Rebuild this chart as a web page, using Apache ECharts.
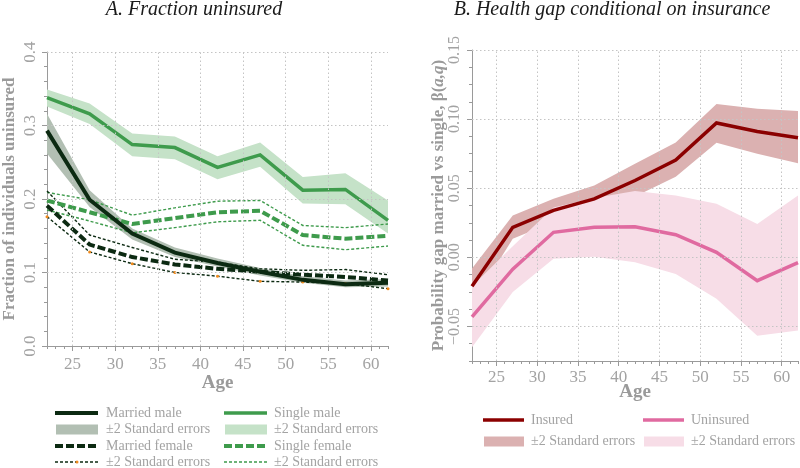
<!DOCTYPE html>
<html>
<head>
<meta charset="utf-8">
<script src="https://cdn.jsdelivr.net/npm/echarts@6/dist/echarts.min.js"></script>
<style>html,body{margin:0;padding:0;background:#fff}#c{width:800px;height:468px}</style>
</head>
<body>
<div id="c"></div>
<script>
// ---------- data ----------
var ages = [22, 27, 32, 37, 42, 47, 52, 57, 62];

// Panel A: fraction uninsured
var marriedMale     = [0.293, 0.199, 0.153, 0.127, 0.113, 0.101, 0.090, 0.084, 0.086];
var marriedMaleLo   = [0.262, 0.189, 0.145, 0.121, 0.108, 0.096, 0.086, 0.080, 0.081];
var marriedMaleHi   = [0.316, 0.212, 0.160, 0.134, 0.119, 0.106, 0.095, 0.089, 0.091];
var singleMale      = [0.338, 0.316, 0.274, 0.270, 0.243, 0.260, 0.212, 0.213, 0.171];
var singleMaleLo    = [0.326, 0.302, 0.258, 0.254, 0.227, 0.244, 0.194, 0.193, 0.153];
var singleMaleHi    = [0.349, 0.330, 0.289, 0.285, 0.258, 0.277, 0.230, 0.235, 0.198];
var marriedFemale   = [0.191, 0.138, 0.121, 0.111, 0.105, 0.101, 0.097, 0.094, 0.089];
var marriedFemaleLo = [0.176, 0.128, 0.112, 0.100, 0.095, 0.088, 0.087, 0.085, 0.078];
var marriedFemaleHi = [0.211, 0.151, 0.134, 0.118, 0.114, 0.105, 0.103, 0.104, 0.097];
var singleFemale    = [0.198, 0.182, 0.166, 0.174, 0.182, 0.184, 0.151, 0.146, 0.150];
var singleFemaleLo  = [0.185, 0.170, 0.154, 0.161, 0.169, 0.171, 0.137, 0.131, 0.136];
var singleFemaleHi  = [0.209, 0.199, 0.178, 0.188, 0.197, 0.198, 0.164, 0.161, 0.166];

// Panel B: health gap conditional on insurance
var insured       = [-0.021, 0.0217, 0.034, 0.0423, 0.0556, 0.0703, 0.0972, 0.091, 0.0865];
var insuredLo     = [-0.034, 0.0135, 0.0255, 0.0330, 0.0440, 0.0583, 0.0829, 0.0750, 0.0680];
var insuredHi     = [-0.008, 0.0302, 0.0423, 0.0520, 0.0677, 0.0830, 0.1110, 0.1075, 0.1058];
var uninsured     = [-0.043, -0.0086, 0.0181, 0.0217, 0.0221, 0.0164, 0.0036, -0.0169, -0.0038];
var uninsuredLo   = [-0.065, -0.025, -0.001, 0.0005, -0.0036, -0.012, -0.030, -0.0567, -0.053];
var uninsuredHi   = [-0.021, 0.008, 0.036, 0.043, 0.048, 0.0447, 0.0387, 0.0242, 0.0447];

// ticks
var xMajor  = [25, 30, 35, 40, 45, 50, 55, 60];
var xMinor  = [22, 23, 24, 26, 27, 28, 29, 31, 32, 33, 34, 36, 37, 38, 39, 41, 42, 43, 44,
               46, 47, 48, 49, 51, 52, 53, 54, 56, 57, 58, 59, 61, 62];
var yMajorA = [0, 0.1, 0.2, 0.3, 0.4];
var yMajorB = [-0.05, 0, 0.05, 0.10, 0.15];
var yMinorB = [-0.075, -0.0625, -0.0375, -0.025, -0.0125, 0.0125, 0.025, 0.0375, 0.0625,
               0.075, 0.0875, 0.1125, 0.125, 0.1375];

// ---------- helpers ----------
var FONT = 'Liberation Serif';
var GRAY = '#a3a3a3';
var AXC = '#9a9a9a';

function pairs(ys) { return ages.map(function (a, i) { return [a, ys[i]]; }); }

function band(name, lo, hi, color, xi, yi, z) {
  return {
    name: name, type: 'custom', xAxisIndex: xi, yAxisIndex: yi, z: z, silent: true,
    data: ages.map(function (a, i) { return [a, lo[i], hi[i]]; }),
    encode: { x: 0, y: [1, 2] },
    renderItem: function (params, api) {
      if (params.dataIndex !== 0) return null;
      var pts = [], i;
      for (i = 0; i < ages.length; i++) pts.push(api.coord([ages[i], hi[i]]));
      for (i = ages.length - 1; i >= 0; i--) pts.push(api.coord([ages[i], lo[i]]));
      return { type: 'polygon', shape: { points: pts }, style: { fill: color, stroke: null } };
    },
    animation: false
  };
}

function line(name, ys, color, width, type, xi, yi, z, extra) {
  var s = {
    name: name, type: 'line', xAxisIndex: xi, yAxisIndex: yi, z: z,
    data: pairs(ys), symbol: 'none', silent: true,
    lineStyle: { color: color, width: width, type: type, cap: 'butt', join: 'miter' },
    animation: false
  };
  if (extra) for (var k in extra) s[k] = extra[k];
  return s;
}

function gridLines(xi, yi, yVals) {
  var d = xMajor.map(function (v) { return { xAxis: v }; })
    .concat(yVals.map(function (v) { return { yAxis: v }; }));
  return {
    type: 'line', xAxisIndex: xi, yAxisIndex: yi, z: 1, data: [], symbol: 'none', silent: true,
    markLine: {
      silent: true, symbol: ['none', 'none'], label: { show: false }, animation: false,
      lineStyle: { color: '#c4c4c4', width: 1, type: [1.5, 2.5] },
      emphasis: { disabled: true },
      data: d
    }
  };
}

function xAxes(gi, nameGap, margin) {
  return [{
    gridIndex: gi, type: 'value', min: 22, max: 62,
    name: 'Age', nameLocation: 'middle', nameGap: nameGap, nameMoveOverlap: false,
    nameTextStyle: { fontFamily: FONT, fontSize: 19, fontWeight: 'bold', color: AXC },
    axisLine: { onZero: false, lineStyle: { color: AXC, width: 1 } },
    axisTick: { customValues: xMajor, length: 5, lineStyle: { color: AXC } },
    axisLabel: { customValues: xMajor, margin: margin, fontFamily: FONT, fontSize: 17, color: GRAY },
    splitLine: { show: false }
  }, {
    gridIndex: gi, type: 'value', min: 22, max: 62, position: 'bottom',
    axisLine: { show: false, onZero: false },
    axisTick: { customValues: xMinor, length: 3, lineStyle: { color: AXC } },
    axisLabel: { show: false }, splitLine: { show: false }
  }];
}

var opt = {
  backgroundColor: '#fff',
  animation: false,
  grid: [
    { left: 44, top: 52, width: 344, height: 294, containLabel: false },
    { left: 472, top: 50, width: 326, height: 311, containLabel: false }
  ],
  xAxis: xAxes(0, 28, 10).concat(xAxes(1, 22, 8)),
  yAxis: [{
    gridIndex: 0, type: 'value', min: 0, max: 0.4, interval: 0.1,
    name: 'Fraction of individuals uninsured', nameLocation: 'middle', nameGap: 29,
    nameMoveOverlap: false,
    nameTextStyle: { fontFamily: FONT, fontSize: 17, fontWeight: 'bold', color: AXC },
    axisLine: { show: true, lineStyle: { color: AXC } },
    axisTick: { show: true, length: 5, lineStyle: { color: AXC } },
    minorTick: { show: true, splitNumber: 5, length: 3, lineStyle: { color: AXC } },
    axisLabel: { rotate: 90, margin: 8, fontFamily: FONT, fontSize: 17, color: GRAY,
      formatter: function (v) { return v.toFixed(1); } },
    splitLine: { show: false }
  }, {
    gridIndex: 1, type: 'value', min: -0.075, max: 0.15,
    name: '{b|Probability gap married vs single,} {m|β(}{i|a,q}{m|)}',
    nameLocation: 'middle', nameGap: 25, nameMoveOverlap: false,
    nameTextStyle: { fontFamily: FONT, fontSize: 17, fontWeight: 'bold', color: AXC,
      rich: {
        b: { fontFamily: FONT, fontSize: 17, fontWeight: 'bold', color: AXC },
        m: { fontFamily: FONT, fontSize: 17, color: AXC },
        i: { fontFamily: FONT, fontSize: 17, fontStyle: 'italic', color: AXC }
      } },
    axisLine: { show: true, onZero: false, lineStyle: { color: AXC } },
    axisTick: { show: true, customValues: yMajorB, length: 5, lineStyle: { color: AXC } },
    axisLabel: { customValues: yMajorB, rotate: 90, margin: 9, fontFamily: FONT, fontSize: 16, color: GRAY,
      formatter: function (v) { return (v < 0 ? '\u2212' : '') + Math.abs(v).toFixed(2); } },
    splitLine: { show: false }
  }, {
    gridIndex: 1, type: 'value', min: -0.075, max: 0.15, position: 'left',
    axisLine: { show: false, onZero: false },
    axisTick: { show: true, customValues: yMinorB, length: 3, lineStyle: { color: AXC } },
    axisLabel: { show: false }, splitLine: { show: false }
  }],
  series: [
    gridLines(0, 0, [0.1, 0.2, 0.3, 0.4]),
    band('Single male SE', singleMaleLo, singleMaleHi, '#c5e2c8', 0, 0, 2),
    band('Married male SE', marriedMaleLo, marriedMaleHi, '#b2bfb3', 0, 0, 2),
    line('Single female hi', singleFemaleHi, '#3e9b4c', 1.4, [3, 2], 0, 0, 3),
    line('Single female lo', singleFemaleLo, '#3e9b4c', 1.4, [3, 2], 0, 0, 3),
    line('Married female hi', marriedFemaleHi, '#0c2a12', 1.4, [3, 2], 0, 0, 3),
    line('Married female lo', marriedFemaleLo, '#0c2a12', 1.4, [3, 2], 0, 0, 3,
      { symbol: 'circle', symbolSize: 3, showSymbol: true, itemStyle: { color: '#f08a1c', borderWidth: 0 } }),
    line('Single male', singleMale, '#3e9b4c', 3.5, 'solid', 0, 0, 4),
    line('Single female', singleFemale, '#3e9b4c', 4, [8, 3], 0, 0, 4),
    line('Married female', marriedFemale, '#0c2a12', 4, [8, 3], 0, 0, 4),
    line('Married male', marriedMale, '#0c2a12', 4, 'solid', 0, 0, 5),

    gridLines(2, 1, [-0.05, 0, 0.05, 0.1, 0.15]),
    band('Insured SE', insuredLo, insuredHi, '#dbb1b1', 2, 1, 2),
    band('Uninsured SE', uninsuredLo, uninsuredHi, '#f7dde7', 2, 1, 2),
    line('Uninsured', uninsured, '#e06aa0', 3.5, 'solid', 2, 1, 4),
    line('Insured', insured, '#8b0000', 3.5, 'solid', 2, 1, 5)
  ],
  graphic: []
};

// ---------- titles ----------
var G = opt.graphic;
function txt(x, y, s, font, color, align) {
  G.push({ type: 'text', x: x, y: y, silent: true,
    style: { text: s, font: font, fill: color, align: align || 'left', verticalAlign: 'middle' } });
}
txt(194, 10, 'A. Fraction uninsured', 'italic 20px "' + FONT + '"', '#1a1a1a', 'center');
txt(612, 10, 'B. Health gap conditional on insurance', 'italic 20px "' + FONT + '"', '#1a1a1a', 'center');

// ---------- legends ----------
function lgLine(x1, x2, y, color, w, dash) {
  G.push({ type: 'line', silent: true, shape: { x1: x1, y1: y, x2: x2, y2: y },
    style: { stroke: color, lineWidth: w, lineDash: dash || null } });
}
function lgRect(x1, x2, y, color) {
  G.push({ type: 'rect', silent: true, shape: { x: x1, y: y - 5, width: x2 - x1, height: 10 },
    style: { fill: color } });
}
var LF = '14px "' + FONT + '"';
var ly = [413, 429.5, 446, 462];
// col 1
lgLine(55, 98, ly[0], '#0c2a12', 4);           txt(106, ly[0], 'Married male', LF, GRAY);
lgRect(56, 98, ly[1], '#b2bfb3');              txt(106, ly[1], '\u00b12 Standard errors', LF, GRAY);
lgLine(55, 98, ly[2], '#0c2a12', 4, [8, 3]);   txt(106, ly[2], 'Married female', LF, GRAY);
lgLine(55, 98, ly[3], '#0c2a12', 1.4, [3, 2]); txt(106, ly[3], '\u00b12 Standard errors', LF, GRAY);
G.push({ type: 'circle', silent: true, shape: { cx: 77, cy: ly[3], r: 1.5 }, style: { fill: '#f08a1c' } });
// col 2
lgLine(224, 267, ly[0], '#3e9b4c', 3.5);       txt(274, ly[0], 'Single male', LF, GRAY);
lgRect(225, 267, ly[1], '#c5e2c8');            txt(274, ly[1], '\u00b12 Standard errors', LF, GRAY);
lgLine(224, 267, ly[2], '#3e9b4c', 4, [8, 3]); txt(274, ly[2], 'Single female', LF, GRAY);
lgLine(224, 267, ly[3], '#3e9b4c', 1.4, [3, 2]); txt(274, ly[3], '\u00b12 Standard errors', LF, GRAY);
// panel B legend
var lb = [420, 441.5];
lgLine(483, 524, lb[0], '#8b0000', 3.5);       txt(531, lb[0], 'Insured', LF, GRAY);
lgRect(484, 524, lb[1], '#dbb1b1');            txt(531, lb[1], '\u00b12 Standard errors', LF, GRAY);
lgLine(643, 684, lb[0], '#e06aa0', 3.5);       txt(691, lb[0], 'Uninsured', LF, GRAY);
lgRect(644, 684, lb[1], '#f7dde7');            txt(691, lb[1], '\u00b12 Standard errors', LF, GRAY);

var chart = echarts.init(document.getElementById('c'), null, { renderer: 'canvas' });
chart.setOption(opt);
</script>
</body>
</html>
